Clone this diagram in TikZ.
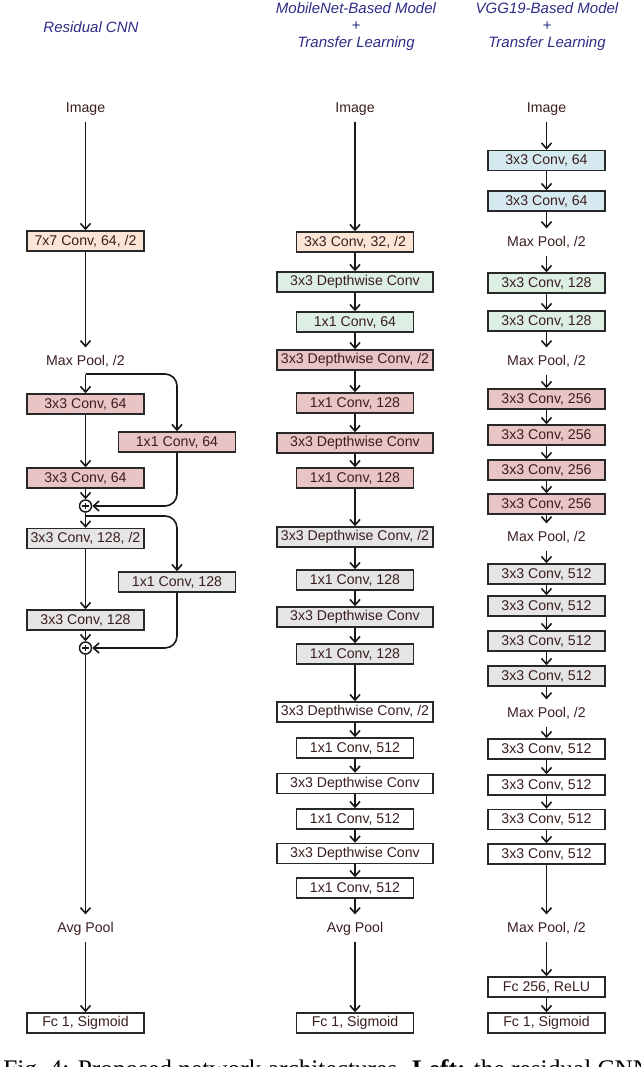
\documentclass[tikz,border=0pt]{standalone}
\usepackage{fontspec}
\setmainfont{Liberation Serif}
\newfontfamily\arialf{Liberation Sans}
\usetikzlibrary{arrows.meta}
\definecolor{txt}{RGB}{58,30,30}
\definecolor{hdr}{RGB}{45,45,135}
\definecolor{peach}{RGB}{251,229,214}
\definecolor{mint}{RGB}{220,239,226}
\definecolor{rose}{RGB}{232,196,197}
\definecolor{sky}{RGB}{213,234,240}
\definecolor{grayf}{RGB}{229,229,229}
\definecolor{edge}{RGB}{40,40,40}
\begin{document}
\begin{tikzpicture}[x=0.75pt,y=-0.75pt,
 every node/.style={font=\arialf\fontsize{10.6}{12}\selectfont, text=txt},
 blk/.style={draw=edge, line width=1.1pt, minimum width=87.75pt, minimum height=15pt, inner sep=0pt},
 wide/.style={blk, minimum width=117pt},
 lbl/.style={inner xsep=2pt, inner ysep=5pt, text height=8pt, text depth=2pt},
 hd/.style={font=\arialf\itshape\fontsize{11.25}{13}\selectfont, text=hdr, inner sep=0pt},
 arr/.style={line width=1.2pt, draw=black!90, -{Straight Barb[length=4.2pt,width=7.5pt]}},
 plus/.style={circle, draw=black!90, line width=1.1pt, minimum size=9pt, inner sep=0pt,
   path picture={\draw[line width=1pt] ([xshift=-2.4pt]path picture bounding box.center) -- ([xshift=2.4pt]path picture bounding box.center);
                 \draw[line width=1pt] ([yshift=-2.4pt]path picture bounding box.center) -- ([yshift=2.4pt]path picture bounding box.center);}}
]
\useasboundingbox (0,0) rectangle (640,1067);
\clip (0,0) rectangle (640,1067);

% headers
\node[hd] (h1) at (91,27) {Residual CNN};
\node[hd] (h2a) at (356,8) {MobileNet-Based Model};
\node[hd] (h2b) at (356,26) {+};
\node[hd] (h2c) at (356,44) {Transfer Learning};
\node[hd] (h3a) at (547,8) {VGG19-Based Model};
\node[hd] (h3b) at (547,26) {+};
\node[hd] (h3c) at (547,44) {Transfer Learning};

% ---------------- Residual CNN ----------------
\node[lbl] (img1) at (85.5,108) {Image};
\node[blk, fill=peach] (c7) at (85.5,241) {7x7 Conv, 64, /2};
\node[lbl] (mp1) at (85.5,361) {Max Pool, /2};
\node[blk, fill=rose] (r1a) at (85.5,404) {3x3 Conv, 64};
\node[blk, fill=rose] (r1s) at (177,442) {1x1 Conv, 64};
\node[blk, fill=rose] (r1b) at (85.5,478) {3x3 Conv, 64};
\node[plus] (p1) at (85.5,506) {};
\node[blk, fill=grayf] (r2a) at (85.5,538.5) {3x3 Conv, 128, /2};
\node[blk, fill=grayf] (r2s) at (177,582) {1x1 Conv, 128};
\node[blk, fill=grayf] (r2b) at (85.5,620) {3x3 Conv, 128};
\node[plus] (p2) at (85.5,648) {};
\node[lbl] (avg1) at (85.5,928) {Avg Pool};
\node[blk, fill=white] (fc1) at (85.5,1023) {Fc 1, Sigmoid};
\coordinate (s1) at (85.5,374);
\coordinate (s2) at (85.5,516);

\draw[arr] (img1) -- (c7);
\draw[arr] (c7) -- (mp1);
\draw[arr] (mp1) -- (r1a);
\draw[arr, rounded corners=9pt] (s1) -| (r1s.north);
\draw[arr] (r1a) -- (r1b);
\draw[arr] (r1b) -- (p1);
\draw[arr, rounded corners=9pt] (r1s.south) |- (p1.east);
\draw[arr] (p1) -- (r2a);
\draw[arr, rounded corners=9pt] (s2) -| (r2s.north);
\draw[arr] (r2a) -- (r2b);
\draw[arr] (r2b) -- (p2);
\draw[arr, rounded corners=9pt] (r2s.south) |- (p2.east);
\draw[arr] (p2) -- (avg1);
\draw[arr] (avg1) -- (fc1);

% ---------------- MobileNet ----------------
\node[lbl] (img2) at (355,108) {Image};
\node[blk, fill=peach] (m1) at (355,242) {3x3 Conv, 32, /2};
\node[wide, fill=mint] (m2) at (355,282) {3x3 Depthwise Conv};
\node[blk, fill=mint] (m3) at (355,322) {1x1 Conv, 64};
\node[wide, fill=rose] (m4) at (355,360) {3x3 Depthwise Conv, /2};
\node[blk, fill=rose] (m5) at (355,403) {1x1 Conv, 128};
\node[wide, fill=rose] (m6) at (355,443) {3x3 Depthwise Conv};
\node[blk, fill=rose] (m7) at (355,478) {1x1 Conv, 128};
\node[wide, fill=grayf] (m8) at (355,537) {3x3 Depthwise Conv, /2};
\node[blk, fill=grayf] (m9) at (355,580) {1x1 Conv, 128};
\node[wide, fill=grayf] (m10) at (355,617) {3x3 Depthwise Conv};
\node[blk, fill=grayf] (m11) at (355,654) {1x1 Conv, 128};
\node[wide, fill=white] (m12) at (355,712) {3x3 Depthwise Conv, /2};
\node[blk, fill=white] (m13) at (355,748) {1x1 Conv, 512};
\node[wide, fill=white] (m14) at (355,783.5) {3x3 Depthwise Conv};
\node[blk, fill=white] (m15) at (355,819) {1x1 Conv, 512};
\node[wide, fill=white] (m16) at (355,853.5) {3x3 Depthwise Conv};
\node[blk, fill=white] (m17) at (355,888) {1x1 Conv, 512};
\node[lbl] (avg2) at (355,928) {Avg Pool};
\node[blk, fill=white] (fc2) at (355,1023) {Fc 1, Sigmoid};

\draw[arr] (img2) -- (m1);
\foreach \a/\b in {m1/m2,m2/m3,m3/m4,m4/m5,m5/m6,m6/m7,m7/m8,m8/m9,m9/m10,m10/m11,m11/m12,m12/m13,m13/m14,m14/m15,m15/m16,m16/m17,m17/avg2,avg2/fc2}
  \draw[arr] (\a) -- (\b);

% ---------------- VGG19 ----------------
\node[lbl] (img3) at (546.5,108) {Image};
\node[blk, fill=sky] (v1) at (546.5,160.5) {3x3 Conv, 64};
\node[blk, fill=sky] (v2) at (546.5,201) {3x3 Conv, 64};
\node[lbl] (mpa) at (546.5,242) {Max Pool, /2};
\node[blk, fill=mint] (v3) at (546.5,283) {3x3 Conv, 128};
\node[blk, fill=mint] (v4) at (546.5,321) {3x3 Conv, 128};
\node[lbl] (mpb) at (546.5,361) {Max Pool, /2};
\node[blk, fill=rose] (v5) at (546.5,399) {3x3 Conv, 256};
\node[blk, fill=rose] (v6) at (546.5,435) {3x3 Conv, 256};
\node[blk, fill=rose] (v7) at (546.5,470) {3x3 Conv, 256};
\node[blk, fill=rose] (v8) at (546.5,504) {3x3 Conv, 256};
\node[lbl] (mpc) at (546.5,537) {Max Pool, /2};
\node[blk, fill=grayf] (v9) at (546.5,574) {3x3 Conv, 512};
\node[blk, fill=grayf] (v10) at (546.5,606) {3x3 Conv, 512};
\node[blk, fill=grayf] (v11) at (546.5,641) {3x3 Conv, 512};
\node[blk, fill=grayf] (v12) at (546.5,676) {3x3 Conv, 512};
\node[lbl] (mpd) at (546.5,713) {Max Pool, /2};
\node[blk, fill=white] (v13) at (546.5,749) {3x3 Conv, 512};
\node[blk, fill=white] (v14) at (546.5,785) {3x3 Conv, 512};
\node[blk, fill=white] (v15) at (546.5,819.5) {3x3 Conv, 512};
\node[blk, fill=white] (v16) at (546.5,854) {3x3 Conv, 512};
\node[lbl] (mpe) at (546.5,928) {Max Pool, /2};
\node[blk, fill=white] (fc256) at (546.5,987) {Fc 256, ReLU};
\node[blk, fill=white] (fc3) at (546.5,1023) {Fc 1, Sigmoid};

\draw[arr] (img3) -- (v1);
\foreach \a/\b in {v1/v2,v2/mpa,mpa/v3,v3/v4,v4/mpb,mpb/v5,v5/v6,v6/v7,v7/v8,v8/mpc,mpc/v9,v9/v10,v10/v11,v11/v12,v12/mpd,mpd/v13,v13/v14,v14/v15,v15/v16,v16/mpe,mpe/fc256,fc256/fc3}
  \draw[arr] (\a) -- (\b);

% caption (cut off at the bottom edge, as in the reference)
\node[anchor=base west, inner sep=0pt, text=black, font=\rmfamily\fontsize{19}{22}\selectfont] (cap) at (3,1077) {Fig.~4: Proposed network architectures. \textbf{Left:} the residual CNN};
\end{tikzpicture}
\end{document}
